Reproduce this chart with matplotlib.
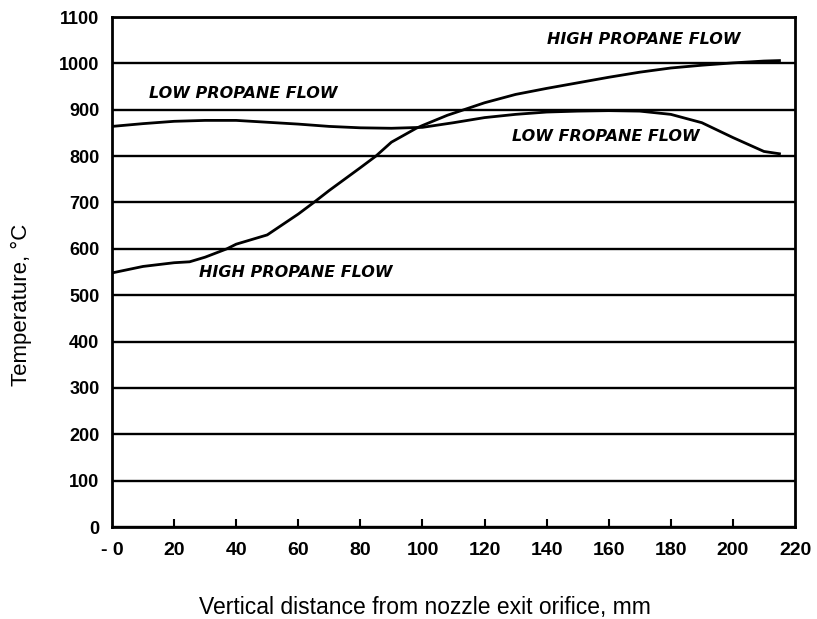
"""Temperature profile along the flame axis for high and low propane flow."""

import matplotlib.pyplot as plt

# distance from nozzle exit (mm) and temperature (deg C)
high_x = [0, 10, 20, 25, 30, 37, 40, 50, 60, 65, 70, 80, 85, 90, 98, 100,
          108, 120, 130, 140, 150, 160, 170, 180, 190, 200, 210, 215]
high_t = [548, 562, 570, 572, 582, 600, 610, 630, 675, 700, 726, 775, 800,
          830, 860, 866, 888, 915, 933, 946, 958, 970, 981, 990, 996, 1001,
          1005, 1006]

low_x = [0, 10, 20, 30, 40, 50, 60, 70, 80, 90, 100, 110, 120, 130, 140,
         150, 160, 170, 180, 190, 200, 210, 215]
low_t = [864, 870, 875, 877, 877, 873, 869, 864, 861, 860, 862, 872, 883,
         890, 895, 897, 898, 897, 890, 872, 840, 810, 805]

x_ticks = [0, 20, 40, 60, 80, 100, 120, 140, 160, 180, 200, 220]
x_labels = ["- 0", "20", "40", "60", "80", "100", "120", "140", "160",
            "180", "200", "220"]
y_ticks = list(range(0, 1101, 100))

# curve annotations: (x, y, text)
notes = [
    (12, 934, "LOW PROPANE FLOW"),
    (140, 1052, "HIGH PROPANE FLOW"),
    (129, 843, "LOW FROPANE FLOW"),
    (28, 548, "HIGH PROPANE FLOW"),
]

plt.rcParams["font.family"] = ["Liberation Sans", "DejaVu Sans"]

fig = plt.figure(figsize=(8.17, 6.19), dpi=100)
ax = fig.add_axes([112 / 817, 92 / 619, 683 / 817, 510 / 619])

for t in y_ticks:
    ax.axhline(t, color="black", lw=1.7, zorder=1)

ax.plot(high_x, high_t, color="black", lw=2.0, zorder=2)
ax.plot(low_x, low_t, color="black", lw=2.0, zorder=2)

for x, y, txt in notes:
    ax.text(x, y, txt, ha="left", va="center", fontsize=11.5,
            fontweight="bold", fontstyle="italic",
            family=["DejaVu Sans"], color="black")

ax.set_xlim(0, 220)
ax.set_ylim(0, 1100)
ax.set_xticks(x_ticks)
ax.set_xticklabels(x_labels)
ax.set_yticks(y_ticks)
ax.tick_params(axis="x", direction="in", length=6, width=1.5, pad=11,
               labelsize=14)
ax.tick_params(axis="y", length=0, pad=9, labelsize=13)
for lab in ax.get_xticklabels() + ax.get_yticklabels():
    lab.set_fontweight("bold")
ticks = ax.xaxis.get_major_ticks()
ticks[0].tick1line.set_visible(False)
ticks[-1].tick1line.set_visible(False)

for s in ax.spines.values():
    s.set_linewidth(2.0)

ax.set_xlabel("Vertical distance from nozzle exit orifice, mm", fontsize=16.5)
ax.xaxis.set_label_coords(0.458, -0.135)
ax.set_ylabel("Temperature, \u00b0C", fontsize=16)
ax.yaxis.set_label_coords(-0.117, 0.435)

fig.savefig("out.png", dpi=100)
